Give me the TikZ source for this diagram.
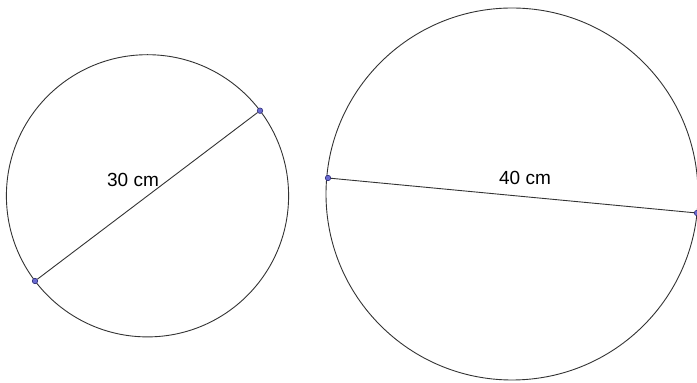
\documentclass[tikz,border=0pt]{standalone}
\usepackage{fontspec}
\setmainfont{Liberation Sans}
\usetikzlibrary{positioning}
\definecolor{rim}{HTML}{333333}
\definecolor{dotfill}{HTML}{6A6AD0}
\definecolor{dotline}{HTML}{2E2E7A}
\tikzset{
  pt/.style={circle,draw=dotline,fill=dotfill,line width=0.6pt,inner sep=0pt,minimum size=5.5pt},
  rimline/.style={draw=rim,line width=0.9pt},
  lbl/.style={font=\fontsize{19}{21}\selectfont,inner sep=1pt}
}

\begin{document}
\begin{tikzpicture}[x=1pt,y=1pt]
\useasboundingbox (0,0) rectangle (697,383);
% small circle
\draw[rimline] (147.5,187.2) circle[radius=141.1];
\node[pt] (a) at (260,272.3) {};
\node[pt] (b) at (35,102) {};
\draw[rimline] (a)--(b);
\node[lbl] (l30) at (133,203) {30 cm};
% big circle
\draw[rimline] (512,189) circle[radius=186];
\node[pt] (c) at (328,205) {};
\node[pt] (d) at (697,170) {};
\draw[rimline] (c)--(d);
\node[lbl] (l40) at (525,205) {40 cm};
\end{tikzpicture}
\end{document}
